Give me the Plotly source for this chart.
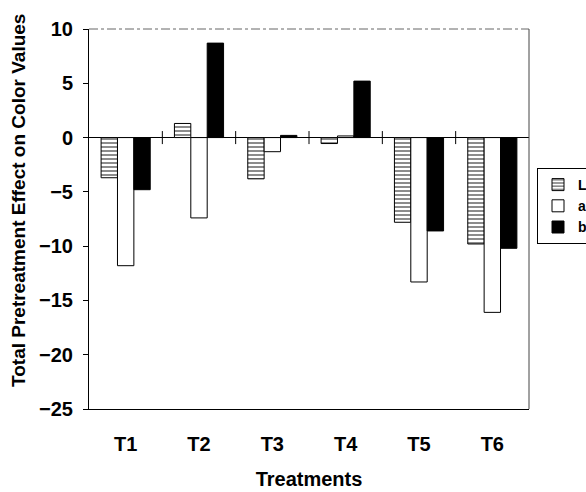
import plotly.graph_objects as go

treatments = ["T1", "T2", "T3", "T4", "T5", "T6"]
L_vals = [-3.7, 1.3, -3.8, -0.55, -7.8, -9.8]
a_vals = [-11.8, -7.4, -1.3, 0.15, -13.3, -16.1]
b_vals = [-4.8, 8.7, 0.2, 5.2, -8.6, -10.2]
y_ticks = [10, 5, 0, -5, -10, -15, -20, -25]

FONT = "Liberation Sans, Arial, sans-serif"

fig = go.Figure()
fig.add_trace(go.Bar(
    x=treatments, y=L_vals, name="L",
    marker=dict(color="white", line=dict(color="black", width=1),
                pattern=dict(shape="-", fgcolor="black", bgcolor="white", size=4, solidity=0.45)),
))
fig.add_trace(go.Bar(
    x=treatments, y=a_vals, name="a",
    marker=dict(color="white", line=dict(color="black", width=1)),
))
fig.add_trace(go.Bar(
    x=treatments, y=b_vals, name="b",
    marker=dict(color="black", line=dict(color="black", width=1)),
))

shapes = []
# zero-line category ticks
for i in range(1, len(treatments)):
    shapes.append(dict(type="line", xref="x", yref="y", x0=i - 0.5, x1=i - 0.5,
                       y0=-0.6, y1=0.6, line=dict(color="black", width=1)))
# frame top (dashed gray) and right
shapes.append(dict(type="line", xref="paper", yref="paper", x0=0, x1=1, y0=1, y1=1,
                   line=dict(color="#666666", width=1, dash="dashdot")))
shapes.append(dict(type="line", xref="paper", yref="paper", x0=1, x1=1, y0=0, y1=1,
                   line=dict(color="#444444", width=1)))

fig.update_layout(
    width=586, height=492,
    margin=dict(l=89, r=57, t=29, b=83, autoexpand=False),
    paper_bgcolor="white", plot_bgcolor="white",
    barmode="group", bargap=0.33, bargroupgap=0,
    font=dict(family=FONT, size=19, color="black"),
    showlegend=True,
    legend=dict(xref="container", yref="container", x=537 / 586, y=1 - 168 / 492,
                xanchor="left", yanchor="top",
                bordercolor="black", borderwidth=1, bgcolor="white",
                font=dict(family=FONT, size=14, color="black", weight="bold"),
                tracegroupgap=0, itemwidth=30),
    shapes=shapes,
    annotations=[dict(text="<b>Total Pretreatment Effect on Color Values</b>",
                      xref="paper", yref="paper", x=(18 - 89) / 440, y=(409 - 201) / 380,
                      xanchor="center", yanchor="middle",
                      textangle=-90, showarrow=False,
                      font=dict(family=FONT, size=19, color="black"))],
)
fig.update_xaxes(
    automargin=False,
    showline=True, linecolor="black", linewidth=1, ticks="",
    showgrid=False, zeroline=False,
    tickfont=dict(family=FONT, size=20, color="black", weight="bold"),
    ticklabelstandoff=17,
    title=dict(text="<b>Treatments</b>", font=dict(family=FONT, size=20), standoff=17),
)
fig.update_yaxes(
    automargin=False,
    range=[-25, 10], tickvals=y_ticks,
    showline=True, linecolor="black", linewidth=1,
    ticks="outside", ticklen=5, tickcolor="black",
    ticklabelstandoff=6,
    showgrid=False, zeroline=True, zerolinecolor="black", zerolinewidth=1,
    tickfont=dict(family=FONT, size=20, color="black", weight="bold"),
)

fig.write_html("out.html")
